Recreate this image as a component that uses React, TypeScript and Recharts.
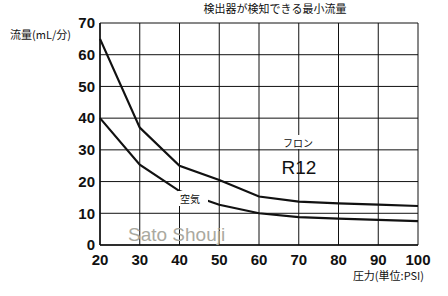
import { LineChart, Line, XAxis, YAxis, CartesianGrid } from "recharts";

// 圧力 (PSI)
const pressure = [20, 30, 40, 50, 60, 70, 80, 90, 100];
// フロン R12 の最小流量 (mL/分)
const freonFlow = [65, 37, 25, 20.5, 15.3, 13.7, 13.1, 12.7, 12.3];
// 空気の最小流量 (mL/分)
const airFlow = [40, 25.3, 17, 12.7, 10, 8.8, 8.3, 7.9, 7.5];
const yTicks = [0, 10, 20, 30, 40, 50, 60, 70];

const data = pressure.map((p, i) => ({ p, freon: freonFlow[i], air: airFlow[i] }));

const jp = '"Noto Sans CJK JP", "Noto Sans", sans-serif';
const tickStyle = {
  fontFamily: '"Liberation Sans", Arial, sans-serif',
  fontSize: 15,
  fontWeight: 700,
  fill: "#111",
};

export default function App() {
  return (
    <div style={{ position: "absolute", left: 0, top: 0, width: 448, height: 296, background: "#fff" }}>
      <LineChart width={448} height={296} data={data} margin={{ top: 23, right: 30, left: 0, bottom: 0 }}>
        <CartesianGrid stroke="#111" strokeWidth={1} />
        <XAxis
          dataKey="p"
          type="number"
          domain={[20, 100]}
          ticks={pressure}
          height={51}
          tickSize={0}
          tickMargin={9}
          tick={tickStyle}
          axisLine={{ stroke: "#111", strokeWidth: 1.5 }}
        />
        <YAxis
          type="number"
          domain={[0, 70]}
          ticks={yTicks}
          width={100}
          tickSize={0}
          tickMargin={5}
          tick={tickStyle}
          axisLine={{ stroke: "#111", strokeWidth: 1.5 }}
        />
        <Line type="linear" dataKey="freon" stroke="#111" strokeWidth={2.2} dot={false} isAnimationActive={false} />
        <Line type="linear" dataKey="air" stroke="#111" strokeWidth={2.2} dot={false} isAnimationActive={false} />
      </LineChart>
      <svg width={448} height={296} style={{ position: "absolute", left: 0, top: 0, pointerEvents: "none" }}>
        <text x={275} y={13} textAnchor="middle" fontFamily={jp} fontSize={11} fill="#111">
          検出器が検知できる最小流量
        </text>
        <text x={10} y={39} fontFamily={jp} fontSize={11} fill="#111">
          流量(mL/分)
        </text>
        <text x={424} y={280} textAnchor="end" fontFamily={jp} fontSize={11} fill="#111">
          圧力(単位:PSI)
        </text>
        <rect x={279} y={135} width={41} height={14} fill="#fff" />
        <text x={298} y={147} textAnchor="middle" fontFamily={jp} fontSize={10} fill="#111">
          フロン
        </text>
        <text x={299} y={174} textAnchor="middle" fontFamily='"Liberation Sans", Arial, sans-serif' fontSize={19} fill="#111">
          R12
        </text>
        <rect x={178} y={191} width={30} height={15} fill="#fff" />
        <text x={180} y={203} fontFamily={jp} fontSize={10} fill="#111">
          空気
        </text>
        <text x={128} y={241} fontFamily='"Liberation Sans", Arial, sans-serif' fontSize={19} fill="#aaa9a0">
          Sato Shouji
        </text>
      </svg>
    </div>
  );
}
